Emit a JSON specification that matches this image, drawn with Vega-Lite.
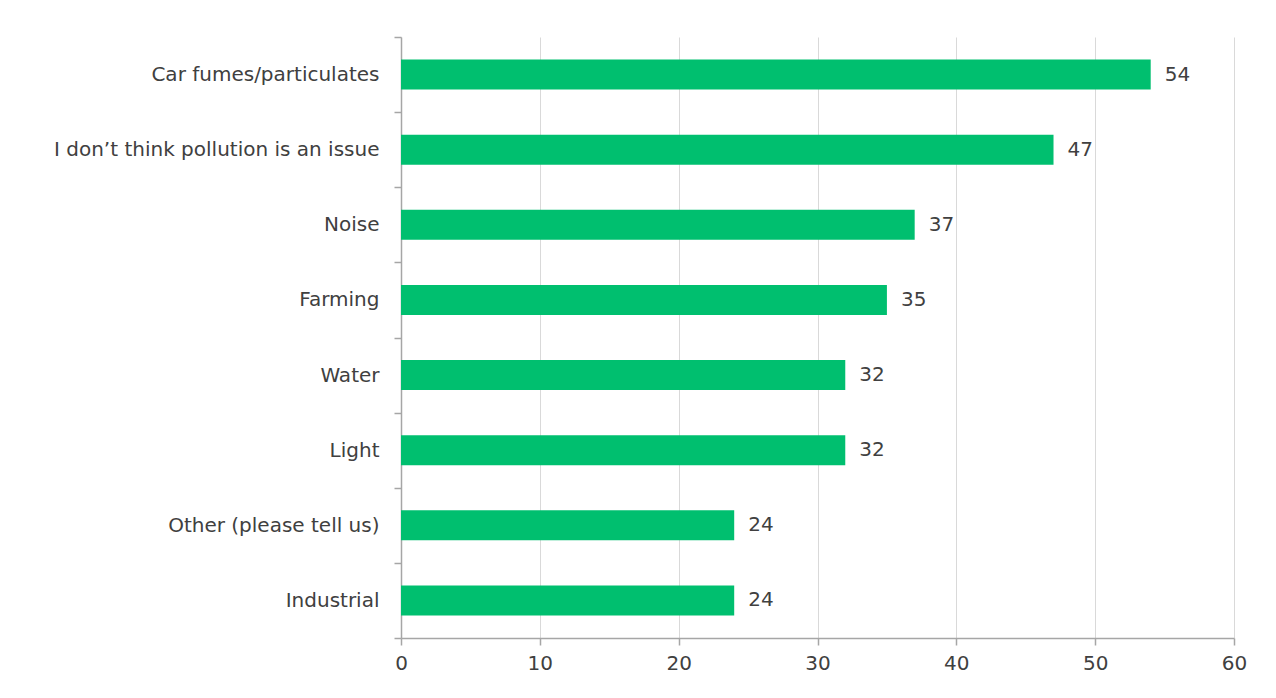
{
  "$schema": "https://vega.github.io/schema/vega-lite/v6.json",
  "width": 833,
  "height": 601,
  "autosize": {"type": "none"},
  "padding": {"left": 401, "top": 37, "right": 42, "bottom": 60},
  "background": "white",
  "config": {
    "view": {"stroke": null},
    "font": "DejaVu Sans",
    "axis": {
      "labelFont": "DejaVu Sans",
      "labelFontSize": 20,
      "labelColor": "#404040",
      "domainColor": "#a6a6a6",
      "tickColor": "#a6a6a6",
      "gridColor": "#d9d9d9",
      "domainWidth": 1.5,
      "tickWidth": 1.5
    }
  },
  "data": {
    "values": [
      {"category": "Car fumes/particulates", "value": 54},
      {"category": "I don’t think pollution is an issue", "value": 47},
      {"category": "Noise", "value": 37},
      {"category": "Farming", "value": 35},
      {"category": "Water", "value": 32},
      {"category": "Light", "value": 32},
      {"category": "Other (please tell us)", "value": 24},
      {"category": "Industrial", "value": 24}
    ]
  },
  "encoding": {
    "y": {
      "field": "category",
      "type": "nominal",
      "sort": null,
      "scale": {"paddingInner": 0, "paddingOuter": 0},
      "axis": {
        "title": null,
        "tickBand": "extent",
        "tickSize": 7,
        "labelPadding": 15,
        "labelLimit": 0,
        "grid": false
      }
    },
    "x": {
      "field": "value",
      "type": "quantitative",
      "scale": {"domain": [0, 60], "nice": false},
      "axis": {
        "title": null,
        "values": [0, 10, 20, 30, 40, 50, 60],
        "tickSize": 7,
        "labelPadding": 8,
        "labelFlush": false,
        "grid": true
      }
    }
  },
  "layer": [
    {"mark": {"type": "bar", "color": "#00BF6F", "height": {"band": 0.4}}},
    {
      "mark": {"type": "text", "align": "left", "dx": 14, "fontSize": 20, "color": "#404040", "font": "DejaVu Sans"},
      "encoding": {"text": {"field": "value", "type": "quantitative"}}
    }
  ]
}
